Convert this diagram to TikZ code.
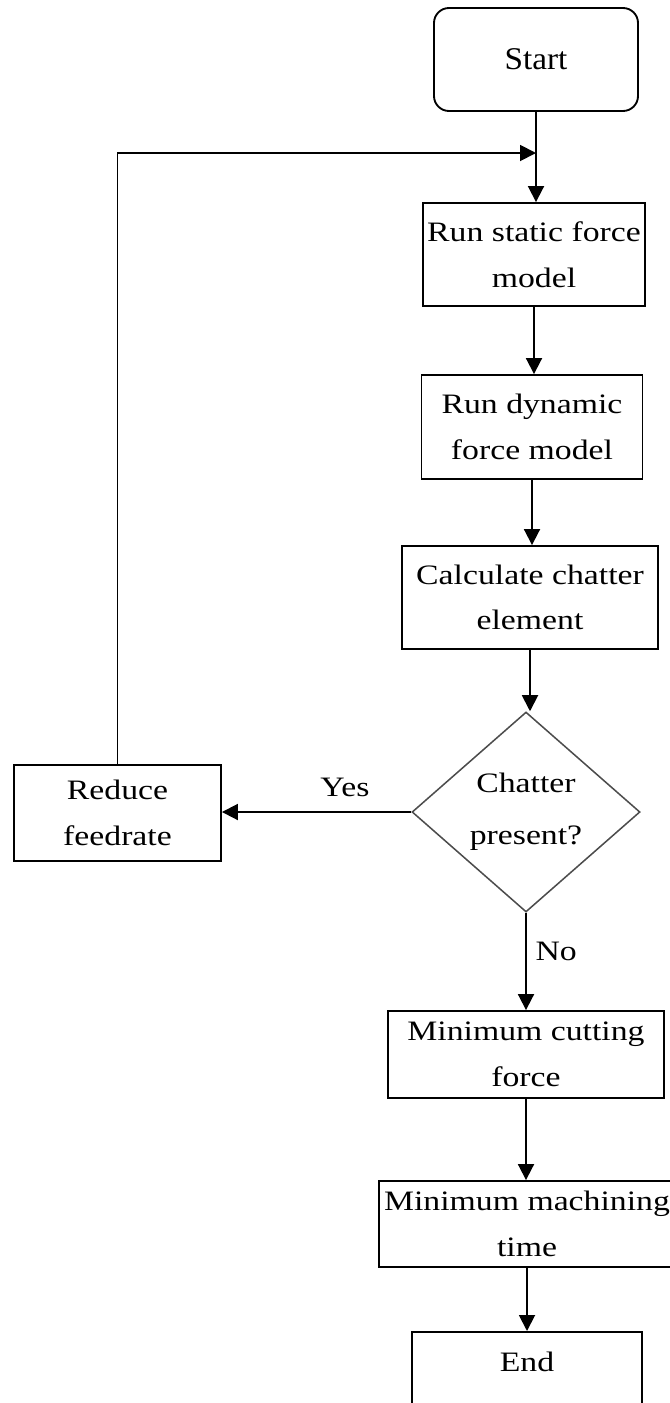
\documentclass[tikz,border=0pt]{standalone}
\usepackage{fontspec}
\setmainfont{Liberation Serif}[FakeStretch=1.2]
\newfontfamily\startfont{Liberation Serif}[FakeStretch=1.05]
\usetikzlibrary{shapes.geometric}
\usetikzlibrary{positioning}
\usetikzlibrary{arrows.meta}
\tikzset{
    boxnode/.style = {rectangle, line width=1.6pt, draw=black, align=center, inner sep=1pt, font=\fontsize{24}{39}\selectfont},
    startnode/.style = {rectangle, rounded corners=0.45cm, line width=1.6pt, draw=black, align=center, minimum width=6.12cm, minimum height=3.09cm, font=\startfont\fontsize{27}{32}\selectfont},
    decnode/.style = {diamond, line width=1.3pt, draw=black!70, align=center, inner sep=0pt, minimum width=6.84cm, minimum height=6cm, font=\fontsize{24}{44}\selectfont},
    labnode/.style = {font=\fontsize{24}{39}\selectfont},
    edgen/.style = {line width=1.6pt, black, -{Triangle[length=0.48cm, width=0.48cm]}},
    edgep/.style = {line width=1.6pt, black}
}

\begin{document}
\begin{tikzpicture}[x=0.03cm, y=-0.03cm]
\useasboundingbox (0,0) rectangle (669,1403);
\node[startnode] at (536, 59.5) (start) {Start};
\node[boxnode, minimum width=6.66cm, minimum height=3.09cm] at (534, 254.5) (static) {Run static force\\model};
\node[boxnode, minimum width=6.63cm, minimum height=3.12cm] at (532, 427) (dynamic) {Run dynamic\\force model};
\node[boxnode, minimum width=7.68cm, minimum height=3.09cm] at (530, 597.5) (chatel) {Calculate chatter\\element};
\node[decnode] at (526, 812) (present) {Chatter\\present?};
\node[boxnode, minimum width=6.21cm, minimum height=2.88cm] at (117.5, 813) (reduce) {Reduce\\feedrate};
\node[boxnode, minimum width=8.28cm, minimum height=2.61cm] at (526, 1054.5) (cutting) {Minimum cutting\\force};
\node[boxnode, minimum width=8.88cm, minimum height=2.58cm] at (527, 1224) (machining) {Minimum machining\\time};
\node[boxnode, minimum width=6.9cm, anchor=north, text height=1.15cm, text depth=1.5cm] at (527, 1331) (end) {End};
\coordinate (join) at (536, 153);
%
\draw[edgen] (start.south) -- (start.south |- static.north);
\draw[edgen] (static.south) -- (static.south |- dynamic.north);
\draw[edgen] (dynamic.south) -- (dynamic.south |- chatel.north);
\draw[edgen] (chatel.south) -- (chatel.south |- present.north);
\draw[edgen] (present.west) -- (present.west -| reduce.east) node[labnode, pos=0.35, above=9pt] (yes) {Yes};
\draw[edgen] (reduce.north) |- (join);
\draw[edgen] (present.south) -- (present.south |- cutting.north) node[labnode, pos=0.4, right=4pt] (no) {No};
\draw[edgen] (cutting.south) -- (cutting.south |- machining.north);
\draw[edgen] (machining.south) -- (machining.south |- end.north);

\end{tikzpicture}
\end{document}
